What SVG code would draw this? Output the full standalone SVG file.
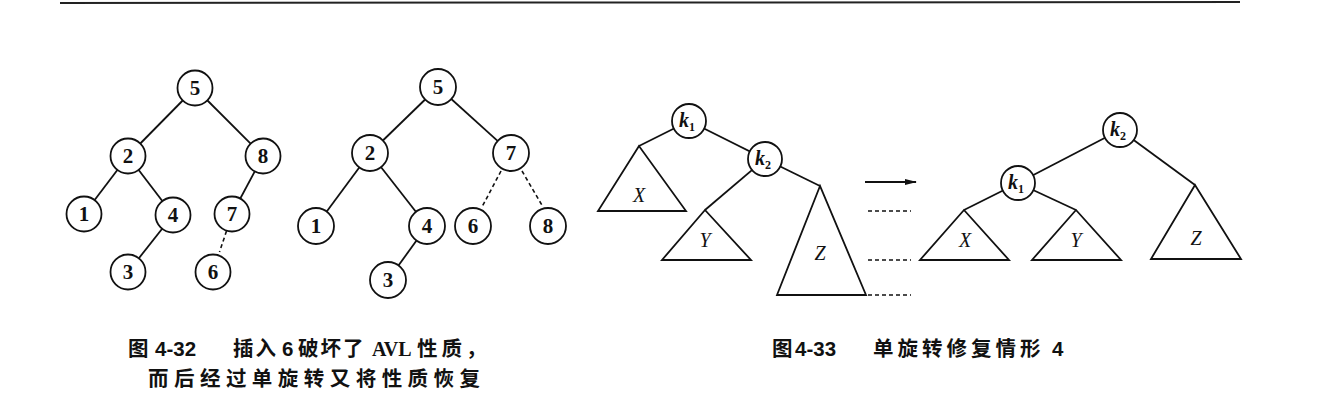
<svg xmlns="http://www.w3.org/2000/svg" width="1341" height="418" viewBox="0 0 1341 418">
<style>
.e{stroke:#111;stroke-width:1.8;fill:none}
.d{stroke:#111;stroke-width:1.6;fill:none;stroke-dasharray:4 3}
.c{stroke:#111;stroke-width:1.8;fill:#fff}
.t{stroke:#111;stroke-width:1.8;fill:none;stroke-linejoin:miter}
.n{font-family:"Liberation Serif",serif;font-size:21px;font-weight:bold;fill:#111;text-anchor:middle}
.k{font-family:"Liberation Serif",serif;font-size:20px;font-style:italic;font-weight:bold;fill:#111;text-anchor:middle}
.s{font-size:12px;font-style:normal}
.L{font-family:"Liberation Serif",serif;font-size:20px;font-style:italic;fill:#111;text-anchor:middle}
.cap{font-family:"Noto Sans CJK SC",sans-serif;font-size:20.5px;font-weight:bold;fill:#111}
.num{font-family:"Liberation Sans",sans-serif;font-weight:bold}
.ser{font-family:"Liberation Serif",serif;font-weight:bold}
</style>
<defs>
<marker id="ah" markerWidth="12" markerHeight="8" refX="11" refY="4" orient="auto" markerUnits="userSpaceOnUse">
<path d="M0,1 L12,4 L0,7 Z" fill="#111"/>
</marker>
</defs>
<line x1="60" y1="3" x2="1240" y2="2" stroke="#222" stroke-width="2"/>
<g id="connectors">
<line class="e" x1="195" y1="88" x2="128" y2="156"/>
<line class="e" x1="195" y1="88" x2="263" y2="156"/>
<line class="e" x1="128" y1="156" x2="84" y2="214"/>
<line class="e" x1="128" y1="156" x2="173" y2="215"/>
<line class="e" x1="263" y1="156" x2="232" y2="214"/>
<line class="e" x1="173" y1="215" x2="128" y2="272"/>
<line class="d" x1="226.5" y1="231" x2="219.5" y2="252"/>
<line class="e" x1="438" y1="87" x2="370" y2="153"/>
<line class="e" x1="438" y1="87" x2="511" y2="153"/>
<line class="e" x1="370" y1="153" x2="316" y2="226"/>
<line class="e" x1="370" y1="153" x2="427" y2="226"/>
<line class="e" x1="427" y1="226" x2="388" y2="280"/>
<line class="d" x1="501" y1="171" x2="482" y2="207"/>
<line class="d" x1="522" y1="171" x2="543" y2="207"/>
<line class="e" x1="689" y1="121" x2="639" y2="146"/>
<line class="e" x1="689" y1="121" x2="765" y2="159"/>
<line class="e" x1="765" y1="159" x2="705" y2="210"/>
<line class="e" x1="765" y1="159" x2="820" y2="186"/>
<line class="e" x1="865" y1="182" x2="916" y2="182" marker-end="url(#ah)"/>
<line class="d" x1="868" y1="211" x2="911" y2="211"/>
<line class="d" x1="868" y1="260" x2="911" y2="260"/>
<line class="d" x1="868" y1="295" x2="911" y2="295"/>
<line class="e" x1="1120" y1="130" x2="1018" y2="183"/>
<line class="e" x1="1120" y1="130" x2="1195" y2="185"/>
<line class="e" x1="1018" y1="183" x2="964" y2="210"/>
<line class="e" x1="1018" y1="183" x2="1076" y2="210"/>
</g>
<g id="t1n5"><circle class="c" cx="195" cy="88" r="17.5"/><text class="n" x="195" y="95">5</text></g>
<g id="t1n2"><circle class="c" cx="128" cy="156" r="17.5"/><text class="n" x="128" y="163">2</text></g>
<g id="t1n8"><circle class="c" cx="263" cy="156" r="17.5"/><text class="n" x="263" y="163">8</text></g>
<g id="t1n1"><circle class="c" cx="84" cy="214" r="17.5"/><text class="n" x="84" y="221">1</text></g>
<g id="t1n4"><circle class="c" cx="173" cy="215" r="17.5"/><text class="n" x="173" y="222">4</text></g>
<g id="t1n7"><circle class="c" cx="232" cy="214" r="17.5"/><text class="n" x="232" y="221">7</text></g>
<g id="t1n3"><circle class="c" cx="128" cy="272" r="17.5"/><text class="n" x="128" y="279">3</text></g>
<g id="t1n6"><circle class="c" cx="213" cy="272" r="17.5"/><text class="n" x="213" y="279">6</text></g>

<g id="t2n5"><circle class="c" cx="438" cy="87" r="18"/><text class="n" x="438" y="94">5</text></g>
<g id="t2n2"><circle class="c" cx="370" cy="153" r="18"/><text class="n" x="370" y="160">2</text></g>
<g id="t2n7"><circle class="c" cx="511" cy="153" r="18"/><text class="n" x="511" y="160">7</text></g>
<g id="t2n1"><circle class="c" cx="316" cy="226" r="18"/><text class="n" x="316" y="233">1</text></g>
<g id="t2n4"><circle class="c" cx="427" cy="226" r="18"/><text class="n" x="427" y="233">4</text></g>
<g id="t2n6"><circle class="c" cx="473" cy="226" r="18"/><text class="n" x="473" y="233">6</text></g>
<g id="t2n8"><circle class="c" cx="548" cy="226" r="18"/><text class="n" x="548" y="233">8</text></g>
<g id="t2n3"><circle class="c" cx="388" cy="280" r="18"/><text class="n" x="388" y="287">3</text></g>

<g id="Lk1"><circle class="c" cx="689" cy="121" r="17"/><text class="k" x="687" y="127">k<tspan class="s" dy="4">1</tspan></text></g>
<g id="Lk2"><circle class="c" cx="765" cy="159" r="17"/><text class="k" x="763" y="165">k<tspan class="s" dy="4">2</tspan></text></g>
<g id="LX"><path class="t" d="M639,146 L598,211 L686,211 Z"/><text class="L" x="639" y="202">X</text></g>
<g id="LY"><path class="t" d="M705,210 L662,260 L751,260 Z"/><text class="L" x="705" y="247">Y</text></g>
<g id="LZ"><path class="t" d="M820,186 L777,295 L866,295 Z"/><text class="L" x="820" y="260">Z</text></g>

<g id="Rk2"><circle class="c" cx="1120" cy="130" r="17"/><text class="k" x="1118" y="136">k<tspan class="s" dy="4">2</tspan></text></g>
<g id="Rk1"><circle class="c" cx="1018" cy="183" r="17"/><text class="k" x="1016" y="189">k<tspan class="s" dy="4">1</tspan></text></g>
<g id="RX"><path class="t" d="M964,210 L920,260 L1009,260 Z"/><text class="L" x="965" y="247">X</text></g>
<g id="RY"><path class="t" d="M1076,210 L1032,260 L1121,260 Z"/><text class="L" x="1076" y="247">Y</text></g>
<g id="RZ"><path class="t" d="M1195,185 L1151,259 L1241,259 Z"/><text class="L" x="1196" y="245">Z</text></g>

<g id="caption1">
<text class="cap" y="356"><tspan x="128">图</tspan><tspan class="num" x="155">4-32</tspan><tspan x="233" letter-spacing="2">插入</tspan><tspan class="num" x="282">6</tspan><tspan x="298" letter-spacing="2">破坏了</tspan><tspan class="ser" x="372" font-size="20">AVL</tspan><tspan x="417" letter-spacing="4">性质，</tspan></text>
<text class="cap" x="148" y="386" textLength="332" lengthAdjust="spacing">而后经过单旋转又将性质恢复</text>
</g>
<g id="caption2">
<text class="cap" y="356"><tspan x="772">图</tspan><tspan class="num" x="795">4-33</tspan><tspan x="873" letter-spacing="4">单旋转修复情形</tspan><tspan class="num" x="1052">4</tspan></text>
</g>
</svg>
